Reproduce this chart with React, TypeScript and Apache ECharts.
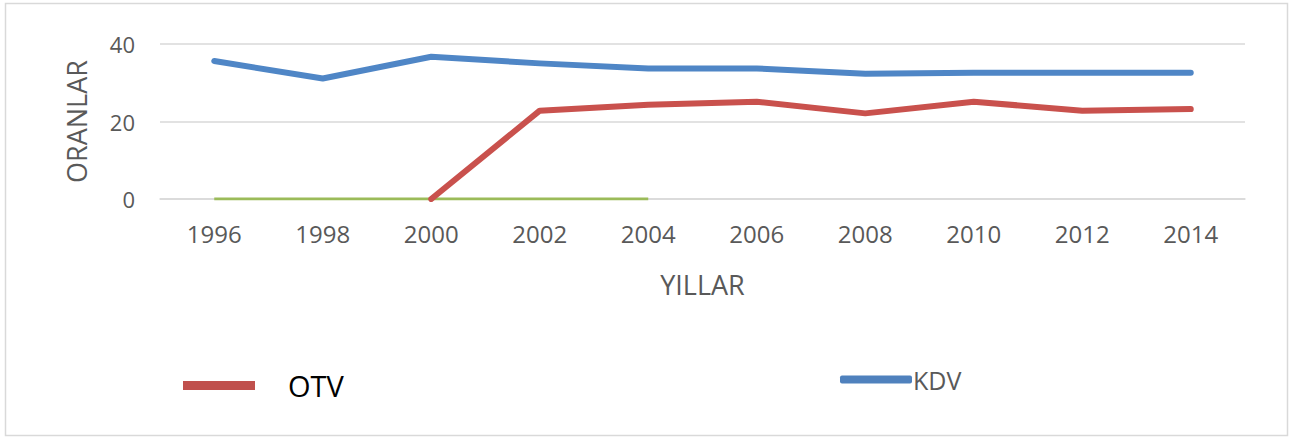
import React, { useEffect, useRef } from "react";
import * as echarts from "echarts";

const years = ["1996", "1998", "2000", "2002", "2004", "2006", "2008", "2010", "2012", "2014"];
const kdv = [35.6, 31.1, 36.7, 35.0, 33.7, 33.7, 32.3, 32.6, 32.6, 32.6];
const otv = [null, null, 0, 22.8, 24.3, 25.1, 22.1, 25.1, 22.8, 23.2];
const third = [0, 0, 0, 0, 0, null, null, null, null, null];
const yTicks = { min: 0, max: 40, interval: 20 };

const FONT = "'Open Sans', 'Noto Sans', sans-serif";

export default function App() {
  const ref = useRef<HTMLDivElement>(null);
  useEffect(() => {
    document.body.style.margin = "0";
    const chart = echarts.init(ref.current!, null, { renderer: "svg" });
    chart.setOption({
      animation: false,
      backgroundColor: "#ffffff",
      graphic: [
        {
          type: "rect",
          z: -10,
          silent: true,
          shape: { x: 5.5, y: 3.5, width: 1282, height: 432 },
          style: { fill: "#ffffff", stroke: "#d9d9d9", lineWidth: 1.5 },
        },
      ],
      grid: { left: 160, right: 50, top: 44, bottom: 240, containLabel: false },
      xAxis: {
        type: "category",
        data: years,
        boundaryGap: true,
        name: "YILLAR",
        nameLocation: "middle",
        nameGap: 72,
        nameTextStyle: { fontFamily: FONT, fontSize: 27, color: "#595959" },
        axisLine: { show: true, lineStyle: { color: "#d9d9d9", width: 1.5 } },
        axisTick: { show: false },
        axisLabel: { fontFamily: FONT, fontSize: 24, color: "#595959", margin: 22 },
      },
      yAxis: {
        type: "value",
        min: yTicks.min,
        max: yTicks.max,
        interval: yTicks.interval,
        name: "ORANLAR",
        nameLocation: "middle",
        nameGap: 70,
        nameRotate: 90,
        nameTextStyle: { fontFamily: FONT, fontSize: 27, color: "#595959" },
        axisLine: { show: false },
        axisTick: { show: false },
        splitLine: { lineStyle: { color: "#d9d9d9", width: 1.5 } },
        axisLabel: { fontFamily: FONT, fontSize: 22, color: "#595959", margin: 25 },
      },
      legend: [
        {
          data: [{ name: "OTV", icon: "rect" }],
          left: 178,
          top: 366,
          itemWidth: 72,
          itemHeight: 9,
          textStyle: { fontFamily: FONT, fontSize: 29, color: "#000000", padding: [8, 0, 0, 28] },
        },
        {
          data: [{ name: "KDV", icon: "roundRect" }],
          left: 835,
          top: 362,
          itemWidth: 72,
          itemHeight: 8,
          itemGap: 0,
          textStyle: { fontFamily: FONT, fontSize: 25, color: "#595959", padding: [8, 0, 0, -4] },
        },
      ],
      series: [
        {
          name: "OTV",
          type: "line",
          data: otv,
          symbol: "none",
          color: "#c0504d",
          lineStyle: { width: 6, color: "#c9514d", cap: "round", join: "round" },
          z: 3,
        },
        {
          name: "KDV",
          type: "line",
          data: kdv,
          symbol: "none",
          color: "#4f81bd",
          lineStyle: { width: 6, color: "#4f86c6", cap: "round", join: "round" },
          z: 3,
        },
        {
          name: "Seri 3",
          type: "line",
          data: third,
          symbol: "none",
          color: "#9bbb59",
          lineStyle: { width: 3, color: "#9bbb59" },
          z: 2,
        },
      ],
    });
    return () => chart.dispose();
  }, []);
  return <div ref={ref} style={{ width: 1295, height: 439 }} />;
}
